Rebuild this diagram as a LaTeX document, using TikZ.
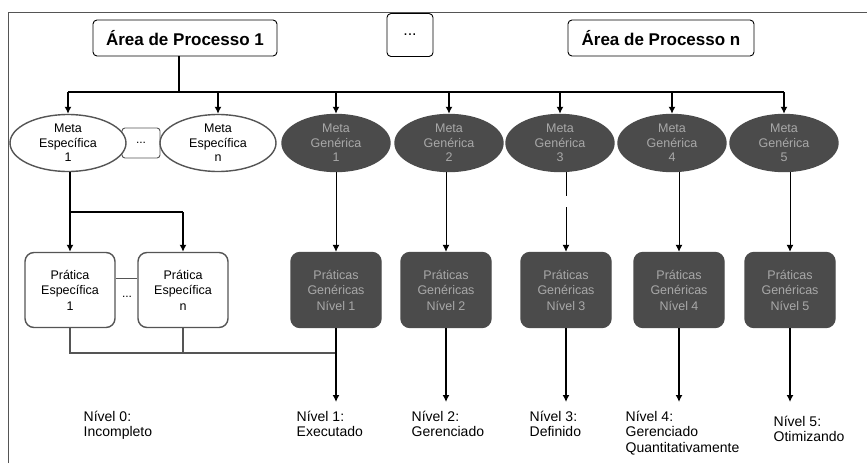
\documentclass[tikz,border=0pt]{standalone}
\usepackage{fontspec}
\setmainfont{Liberation Sans}
\usetikzlibrary{shapes.geometric,arrows.meta}

\definecolor{escuro}{HTML}{4B4B4B}
\definecolor{textoescuro}{HTML}{A8A8A8}
\definecolor{linha}{HTML}{555555}

\tikzset{
    seta/.style={-{Latex[length=7pt,width=7pt]}},
    area/.style={draw, rounded corners=4pt, minimum height=36pt, line width=0.9pt,
        font=\bfseries\fontsize{17}{20}\selectfont},
    metaesp/.style={ellipse, draw=linha, fill=white, minimum width=116pt, minimum height=57pt,
        align=center, inner sep=0pt, font=\fontsize{12.5}{14.5}\selectfont},
    metagen/.style={metaesp, draw=escuro, fill=escuro, minimum width=108pt, text=textoescuro},
    praticaesp/.style={draw=linha, fill=white, rounded corners=9pt, minimum width=90pt,
        minimum height=75pt, align=center, font=\fontsize{12.5}{15.5}\selectfont},
    praticagen/.style={praticaesp, draw=escuro, fill=escuro, text=textoescuro},
    nivel/.style={anchor=north west, align=left, inner sep=0pt,
        font=\fontsize{14}{15.5}\selectfont},
}

\begin{document}
\begin{tikzpicture}[x=1pt, y=-1pt, line width=1.4pt]
    \useasboundingbox (0,0) rectangle (867,466);

    % moldura
    \draw[line width=0.8pt, linha] (8,463) -- (8,12) -- (867,12);

    % 1. Areas de processo
    \node (area1) at (185,38) [area, minimum width=184pt] {Área de Processo 1};
    \node (reticencias) at (410,35) [draw, rounded corners=4pt, line width=0.9pt,
        minimum width=46pt, minimum height=43pt, font=\fontsize{16}{18}\selectfont] {...};
    \node (arean) at (661,38) [area, minimum width=186pt] {Área de Processo n};

    % 2. Metas
    \node (entremetas) at (141,143) [draw=linha, fill=white, rounded corners=3pt, line width=0.9pt,
        minimum width=38pt, minimum height=30pt, font=\fontsize{12}{12}\selectfont] {...};
    \node (me1) at (68,143) [metaesp] {Meta\\Específica\\1};
    \node (men) at (218,143) [metaesp] {Meta\\Específica\\n};
    \node (mg1) at (336,143) [metagen] {Meta\\Genérica\\1};
    \node (mg2) at (449,143) [metagen] {Meta\\Genérica\\2};
    \node (mg3) at (560,143) [metagen] {Meta\\Genérica\\3};
    \node (mg4) at (672,143) [metagen] {Meta\\Genérica\\4};
    \node (mg5) at (784,143) [metagen] {Meta\\Genérica\\5};

    % barramento que desce da area 1
    \coordinate (tronco) at (179,92);
    \draw (area1.south -| tronco) -- (tronco);
    \draw (me1.north |- tronco) -- (mg5.north |- tronco);
    \foreach \m in {me1,men,mg1,mg2,mg3,mg4,mg5}
        \draw[seta] (\m.north |- tronco) -- (\m.north);

    % 3. Praticas
    \node (pe1) at (70,290) [praticaesp] {Prática\\Específica\\1};
    \node (pen) at (183,290) [praticaesp] {Prática\\Específica\\n};
    \node (pg1) at (336,290) [praticagen] {Práticas\\Genéricas\\Nível 1};
    \node (pg2) at (446,290) [praticagen] {Práticas\\Genéricas\\Nível 2};
    \node (pg3) at (566,290) [praticagen] {Práticas\\Genéricas\\Nível 3};
    \node (pg4) at (679,290) [praticagen] {Práticas\\Genéricas\\Nível 4};
    \node (pg5) at (790,290) [praticagen] {Práticas\\Genéricas\\Nível 5};

    \draw[line width=0.8pt, linha] (pe1.east |- 0,278) -- (pen.west |- 0,278);
    \node (entrepraticas) at (127,297) [font=\fontsize{12}{12}\selectfont] {...};

    % meta especifica -> praticas especificas
    \coordinate (desvio) at (0,212);
    \draw (me1.south -| pe1.north) -- (pe1.north |- desvio) -- (pen.north |- desvio);
    \draw[seta] (pe1.north |- desvio) -- (pe1.north);
    \draw[seta] (pen.north |- desvio) -- (pen.north);

    % metas genericas -> praticas genericas
    \foreach \i in {1,2,4,5}
        \draw[seta, line width=1pt] (mg\i.south -| pg\i.north) -- (pg\i.north);
    \draw[seta, line width=1pt, dash pattern=on 24pt off 11pt on 200pt] (mg3.south -| pg3.north) -- (pg3.north);

    % 4. Niveis
    \coordinate (juncao) at (0,353);
    \coordinate (fim) at (0,402);
    \draw[linha] (pe1.south) -- (pe1.south |- juncao) -- (pg1.south |- juncao);
    \draw[linha] (pen.south) -- (pen.south |- juncao);
    \foreach \i in {1,...,5}
        \draw[seta] (pg\i.south) -- (pg\i.south |- fim);

    \node (nivel0) at (83,410) [nivel] {Nível 0:\\Incompleto};
    \node (nivel1) at (296,410) [nivel] {Nível 1:\\Executado};
    \node (nivel2) at (411,410) [nivel] {Nível 2:\\Gerenciado};
    \node (nivel3) at (529,410) [nivel] {Nível 3:\\Definido};
    \node (nivel4) at (625,410) [nivel] {Nível 4:\\Gerenciado\\Quantitativamente};
    \node (nivel5) at (773,415) [nivel] {Nível 5:\\Otimizando};
\end{tikzpicture}
\end{document}
